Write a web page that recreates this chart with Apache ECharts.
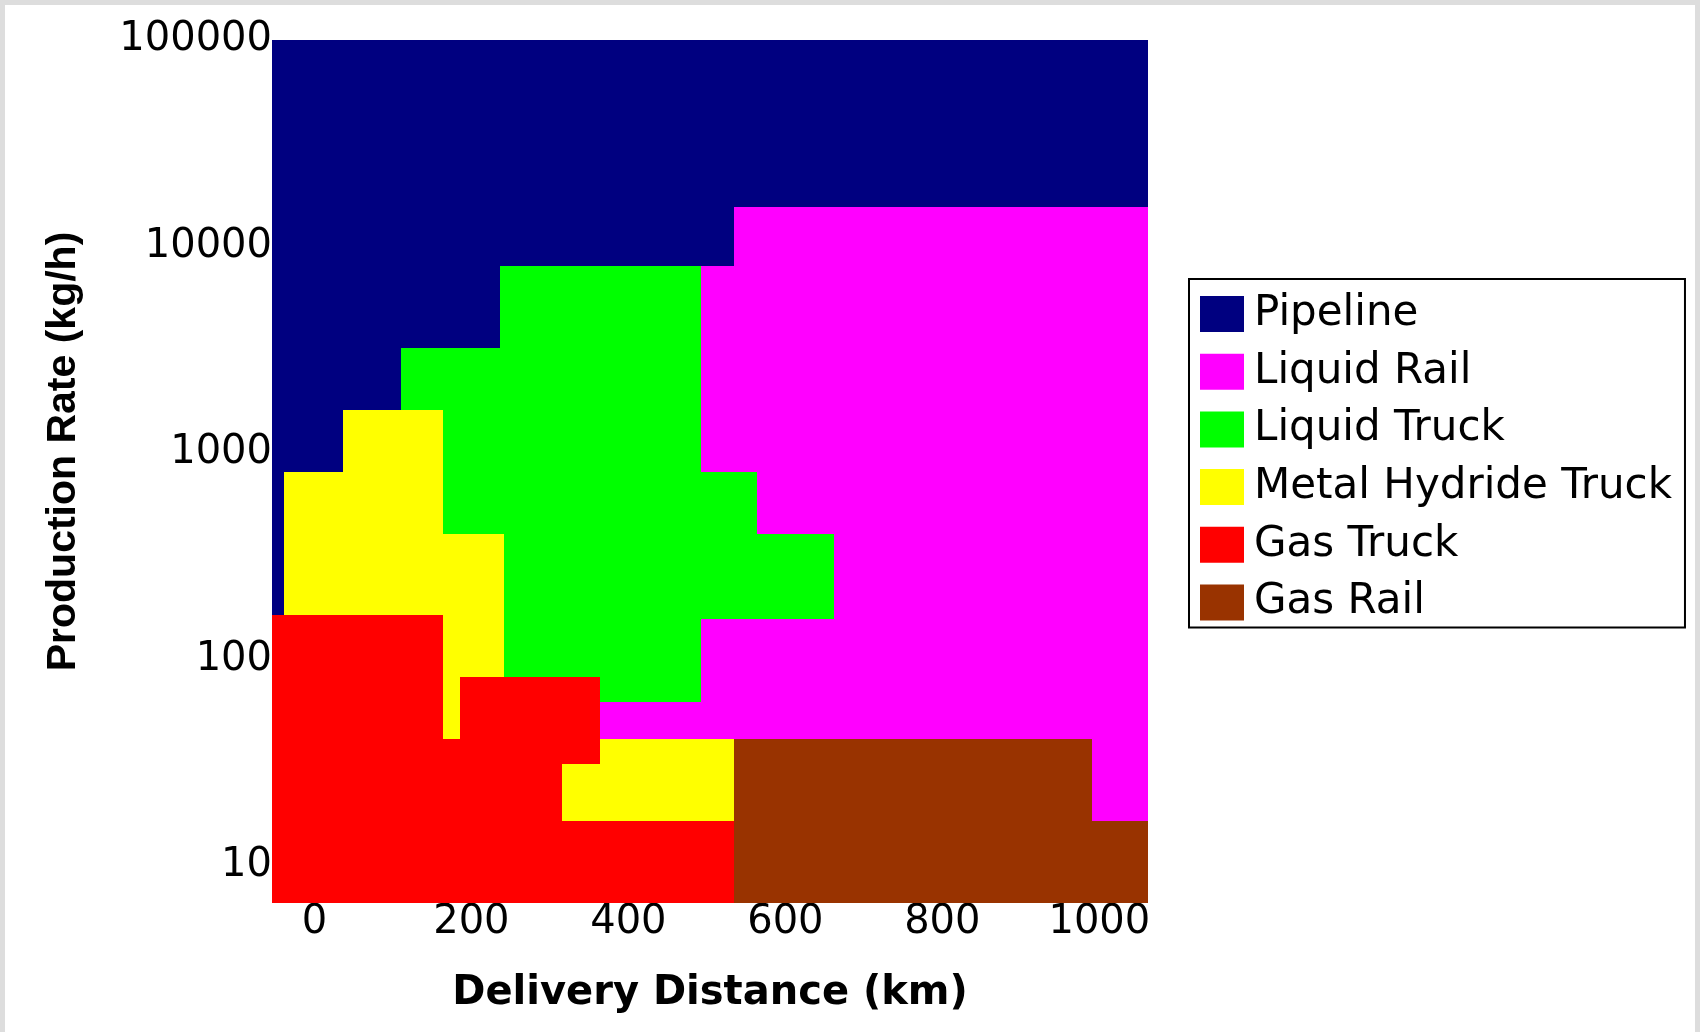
<!DOCTYPE html>
<html><head><meta charset="utf-8">
<script src="https://cdn.jsdelivr.net/npm/echarts@6/dist/echarts.min.js"></script>
<style>html,body{margin:0;padding:0;background:#fff}#c{width:1700px;height:1032px}</style>
</head><body><div id="c"></div>
<script>
// ---- data (x: delivery distance km, y: production rate kg/h) ----
const categories = ['Pipeline', 'Liquid Rail', 'Liquid Truck', 'Metal Hydride Truck', 'Gas Truck', 'Gas Rail'];
const xTicks = [0, 200, 400, 600, 800, 1000];
const yTicks = [10, 100, 1000, 10000, 100000];
const xRange = [-54, 1062];
const yRange = [6.58, 100000];
// regions as [x0, x1, y0, y1]
const pipeline = [
  [-54, 1062, 15530, 100000],
  [-54, 534, 8020, 15530],
  [-54, 236, 3200, 8020],
  [-54, 110, 1607, 3200],
  [-54, 36, 804, 1607],
  [-54, -39, 163, 804]
];
const liquidRail = [
  [662, 991, 41.1, 15530],
  [991, 1062, 16.4, 15530],
  [564, 662, 406, 15530],
  [534, 564, 804, 15530],
  [493, 534, 804, 8020],
  [493, 662, 41.1, 156],
  [364, 493, 41.1, 61.7]
];
const liquidTruck = [
  [236, 493, 406, 8020],
  [241.5, 493, 81.5, 406],
  [364, 493, 61.7, 81.5],
  [164, 236, 406, 3200],
  [110, 164, 1607, 3200],
  [493, 564, 156, 804],
  [564, 662, 156, 406]
];
const metalHydrideTruck = [
  [-39, 36, 163, 804],
  [36, 164, 163, 1607],
  [164, 241.5, 81.5, 406],
  [164, 185, 41.1, 81.5],
  [316, 364, 16.4, 31],
  [364, 534, 16.4, 41.1]
];
const gasTruck = [
  [-54, 164, 6.58, 163],
  [164, 185, 6.58, 41.1],
  [185, 364, 31, 81.5],
  [185, 316, 6.58, 31],
  [316, 534, 6.58, 16.4]
];
const gasRail = [
  [534, 991, 6.58, 41.1],
  [991, 1062, 6.58, 16.4]
];

// ---- styling ----
const regionData = [pipeline, liquidRail, liquidTruck, metalHydrideTruck, gasTruck, gasRail];
const colors = ['#000080', '#ff00ff', '#00ff00', '#ffff00', '#ff0000', '#993300'];
const tickFont = 'DejaVu Sans';

function renderRect(params, api) {
  const p0 = api.coord([api.value(0), api.value(3)]);
  const p1 = api.coord([api.value(1), api.value(2)]);
  const x = Math.round(p0[0]), y = Math.round(p0[1]);
  return {
    type: 'rect',
    shape: { x: x, y: y, width: Math.round(p1[0]) - x, height: Math.round(p1[1]) - y },
    style: { fill: api.visual('color') }
  };
}

const chart = echarts.init(document.getElementById('c'), null, { renderer: 'canvas' });
chart.setOption({
  animation: false,
  backgroundColor: '#fff',
  grid: { left: 272, top: 40, width: 876, height: 863 },
  xAxis: {
    type: 'value', min: xRange[0], max: xRange[1],
    name: 'Delivery Distance (km)', nameLocation: 'middle', nameGap: 71,
    nameTextStyle: { fontFamily: tickFont, fontWeight: 'bold', fontSize: 40, color: '#000' },
    axisLine: { show: false }, axisTick: { show: false }, splitLine: { show: false },
    axisLabel: {
      margin: 0, fontFamily: tickFont, fontSize: 40, color: '#000',
      showMinLabel: false, showMaxLabel: false,
      formatter: v => (xTicks.indexOf(v) >= 0 ? String(v) : '')
    }
  },
  yAxis: {
    type: 'log', logBase: 10, min: yRange[0], max: yRange[1],
    name: 'Production Rate (kg/h)', nameLocation: 'middle', nameGap: 188,
    nameTextStyle: { fontFamily: 'Liberation Sans', fontWeight: 'bold', fontSize: 41, color: '#000', padding: [0, 0, 0, 40] },
    axisLine: { show: false }, axisTick: { show: false }, splitLine: { show: false },
    axisLabel: {
      margin: 0, fontFamily: tickFont, fontSize: 40, color: '#000',
      padding: [9, 0, 0, 0],
      showMinLabel: false,
      formatter: v => {
        const m = yTicks.find(t => Math.abs(t - v) / t < 1e-6);
        return m ? String(m) : '';
      }
    }
  },
  legend: {
    orient: 'vertical', left: 1189, top: 279,
    data: categories, icon: 'rect', itemWidth: 44, itemHeight: 36, itemGap: 15.7,
    padding: [14, 13, 4, 11],
    backgroundColor: '#fff', borderColor: '#000', borderWidth: 2,
    textStyle: { fontFamily: tickFont, fontSize: 42, color: '#000', padding: [0, 0, 0, 5] },
    selectedMode: false
  },
  graphic: [
    { type: 'rect', shape: { x: 0, y: 0, width: 1700, height: 5 }, style: { fill: '#dddddd' }, silent: true },
    { type: 'rect', shape: { x: 0, y: 0, width: 5, height: 1032 }, style: { fill: '#dddddd' }, silent: true },
    { type: 'rect', shape: { x: 1695, y: 0, width: 5, height: 1032 }, style: { fill: '#dddddd' }, silent: true }
  ],
  series: categories.map((name, i) => ({
    type: 'custom', name: name,
    renderItem: renderRect,
    encode: { x: [0, 1], y: [2, 3] },
    itemStyle: { color: colors[i] },
    data: regionData[i]
  }))
});
</script></body></html>
